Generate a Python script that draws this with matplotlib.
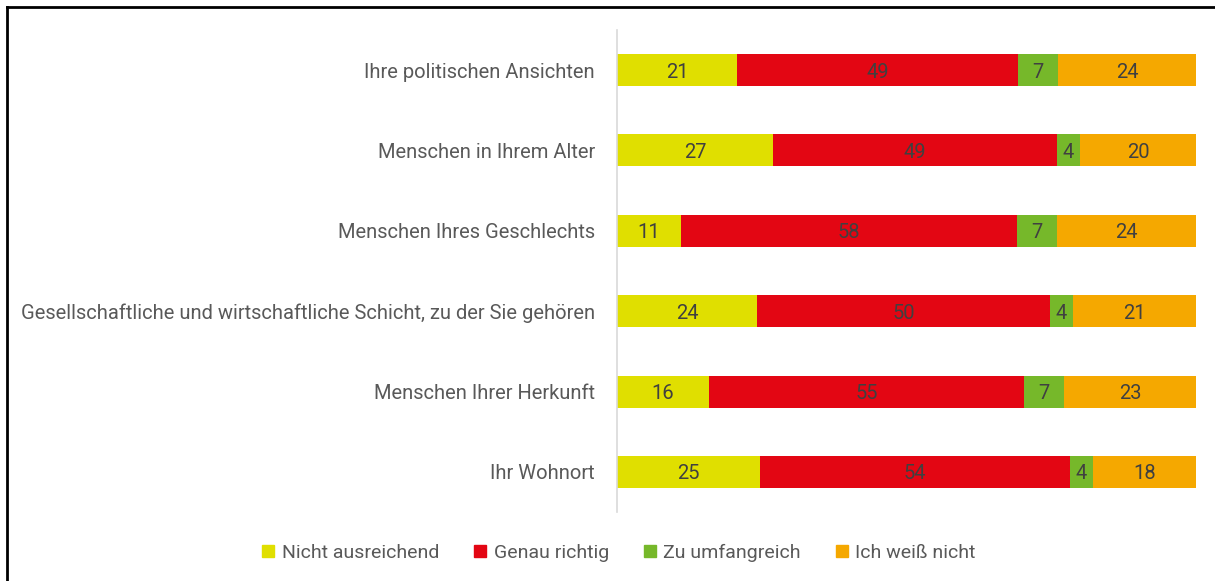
import matplotlib
matplotlib.use("Agg")
import matplotlib.pyplot as plt
import numpy as np
from matplotlib.lines import Line2D

categories = [
    "Ihre politischen Ansichten",
    "Menschen in Ihrem Alter",
    "Menschen Ihres Geschlechts",
    "Gesellschaftliche und wirtschaftliche Schicht, zu der Sie gehören",
    "Menschen Ihrer Herkunft",
    "Ihr Wohnort",
]
series_names = ["Nicht ausreichend", "Genau richtig", "Zu umfangreich", "Ich weiß nicht"]
nicht_ausreichend = [21, 27, 11, 24, 16, 25]
genau_richtig = [49, 49, 58, 50, 55, 54]
zu_umfangreich = [7, 4, 7, 4, 7, 4]
weiss_nicht = [24, 20, 24, 21, 23, 18]
colors = ["#E0DF00", "#E30613", "#76B82A", "#F5A800"]

plt.rcParams['font.family'] = ['Roboto', 'DejaVu Sans']

fig = plt.figure(figsize=(12.15, 5.81), dpi=100)
ax = fig.add_axes([617/1215, 1-512.2/581, (1196-617)/1215, 482.4/581])

data = np.array([nicht_ausreichend, genau_richtig, zu_umfangreich, weiss_nicht], dtype=float)
totals = data.sum(axis=0)
shares = data / totals * 100
y = np.arange(len(categories))
left = np.zeros(len(categories))
for i, name in enumerate(series_names):
    bars = ax.barh(y, shares[i], left=left, height=0.4, color=colors[i], label=name)
    for j, b in enumerate(bars):
        cx = left[j] + shares[i][j] / 2
        ax.text(cx, y[j], f"{int(data[i][j])}", ha='center', va='center_baseline',
                fontsize=14.5, color='#404040')
    left += shares[i]

ax.set_xlim(0, 100)
ax.set_ylim(len(categories) - 0.5, -0.5)
ax.set_yticks(y)
ax.set_yticklabels(categories, fontsize=14.5, color='#595959')
ax.tick_params(axis='y', length=0, pad=16)
ax.set_xticks([])
for s in ['top', 'right', 'bottom']:
    ax.spines[s].set_visible(False)
ax.spines['left'].set_color('#D9D9D9')
ax.spines['left'].set_linewidth(1.2)

handles = [Line2D([0], [0], marker='s', linestyle='none', markersize=9,
                  markerfacecolor=c, markeredgecolor=c) for c in colors]
fig.legend(handles, series_names, loc='center', bbox_to_anchor=(617/1215, 1-553/581),
           ncol=4, frameon=False, fontsize=14, labelcolor='#595959',
           handletextpad=0.2, columnspacing=1.6, handlelength=1.0)

# frame lines (top and left)
fig.add_artist(Line2D([7/1215, 1], [1-7/581, 1-7/581], transform=fig.transFigure, color='black', lw=2))
fig.add_artist(Line2D([7/1215, 7/1215], [0, 1-7/581], transform=fig.transFigure, color='black', lw=2))

fig.savefig("out.png", dpi=100)
